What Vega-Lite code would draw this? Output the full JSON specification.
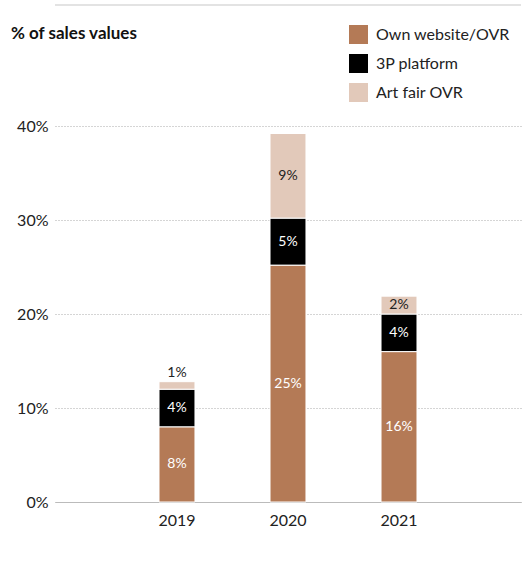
{
  "$schema": "https://vega.github.io/schema/vega-lite/v6.json",
  "width": 466,
  "height": 376,
  "autosize": "none",
  "padding": {"left": 55, "top": 126, "right": 10, "bottom": 66},
  "background": "white",
  "config": {"font": "Lato", "view": {"stroke": null}},
  "title": {
    "text": "% of sales values",
    "anchor": "start",
    "frame": "group",
    "dx": -44,
    "dy": 56,
    "offset": 0,
    "baseline": "bottom",
    "fontSize": 17,
    "fontWeight": "bold",
    "color": "#111"
  },
  "data": {
    "values": [
      {"year": "2019", "segment": "Own website/OVR", "ord": 1, "value": 0.08},
      {"year": "2019", "segment": "3P platform", "ord": 2, "value": 0.04},
      {"year": "2019", "segment": "Art fair OVR", "ord": 3, "value": 0.008},
      {"year": "2020", "segment": "Own website/OVR", "ord": 1, "value": 0.252},
      {"year": "2020", "segment": "3P platform", "ord": 2, "value": 0.05},
      {"year": "2020", "segment": "Art fair OVR", "ord": 3, "value": 0.09},
      {"year": "2021", "segment": "Own website/OVR", "ord": 1, "value": 0.16},
      {"year": "2021", "segment": "3P platform", "ord": 2, "value": 0.04},
      {"year": "2021", "segment": "Art fair OVR", "ord": 3, "value": 0.019}
    ]
  },
  "layer": [
    {
      "data": {"values": [{"top": 0.5287}]},
      "mark": {"type": "rule", "color": "#c8c8c8", "strokeWidth": 1.2, "clip": false},
      "encoding": {
        "y": {"field": "top", "type": "quantitative", "scale": {"domain": [0, 0.4]}}
      }
    },
    {
      "mark": {"type": "bar", "stroke": "#ffffff", "strokeWidth": 1},
      "encoding": {
        "x": {
          "field": "year", "type": "ordinal",
          "scale": {"paddingInner": 0.676, "paddingOuter": 0.937},
          "axis": {
            "title": null, "labelAngle": 0, "labelFontSize": 16, "labelColor": "#222",
            "ticks": false, "labelPadding": 10, "domainColor": "#bbbbbb", "domainWidth": 1.2
          }
        },
        "y": {
          "field": "value", "type": "quantitative", "stack": "zero",
          "scale": {"domain": [0, 0.4]},
          "axis": {
            "title": null, "format": ".0%", "values": [0, 0.1, 0.2, 0.3, 0.4],
            "labelFontSize": 16, "labelColor": "#222", "ticks": false, "domain": false,
            "labelPadding": 7, "gridColor": "#aaaaaa", "gridDash": [1, 2], "gridWidth": 1
          }
        },
        "color": {
          "field": "segment", "type": "nominal",
          "scale": {
            "domain": ["Own website/OVR", "3P platform", "Art fair OVR"],
            "range": ["#B47A56", "#000000", "#E2C9BA"]
          },
          "legend": {
            "title": null, "orient": "none", "legendX": 294, "legendY": -101,
            "symbolType": "square", "symbolSize": 361, "symbolStrokeWidth": 0,
            "symbolOpacity": 1, "labelFontSize": 16, "labelColor": "#222",
            "rowPadding": 10, "labelOffset": 8, "padding": 0
          }
        },
        "order": {"field": "ord", "type": "quantitative"}
      }
    },
    {
      "mark": {"type": "text", "fontSize": 14, "baseline": "middle"},
      "encoding": {
        "x": {"field": "year", "type": "ordinal"},
        "y": {"field": "value", "type": "quantitative", "stack": "zero", "bandPosition": 0.5, "scale": {"domain": [0, 0.4]}},
        "detail": {"field": "segment"},
        "order": {"field": "ord", "type": "quantitative"},
        "text": {"field": "value", "type": "quantitative", "format": ".0%"},
        "color": {
          "condition": {"test": "datum.segment === 'Art fair OVR'", "value": "#222222"},
          "value": "#ffffff"
        },
        "opacity": {"condition": {"test": "datum.value < 0.01", "value": 0}, "value": 1}
      }
    },
    {
      "mark": {"type": "text", "fontSize": 14, "baseline": "middle", "dy": -9, "color": "#222222"},
      "encoding": {
        "x": {"field": "year", "type": "ordinal"},
        "y": {"field": "value", "type": "quantitative", "stack": "zero", "scale": {"domain": [0, 0.4]}},
        "detail": {"field": "segment"},
        "order": {"field": "ord", "type": "quantitative"},
        "text": {"field": "value", "type": "quantitative", "format": ".0%"},
        "opacity": {"condition": {"test": "datum.value < 0.01", "value": 1}, "value": 0}
      }
    }
  ]
}
